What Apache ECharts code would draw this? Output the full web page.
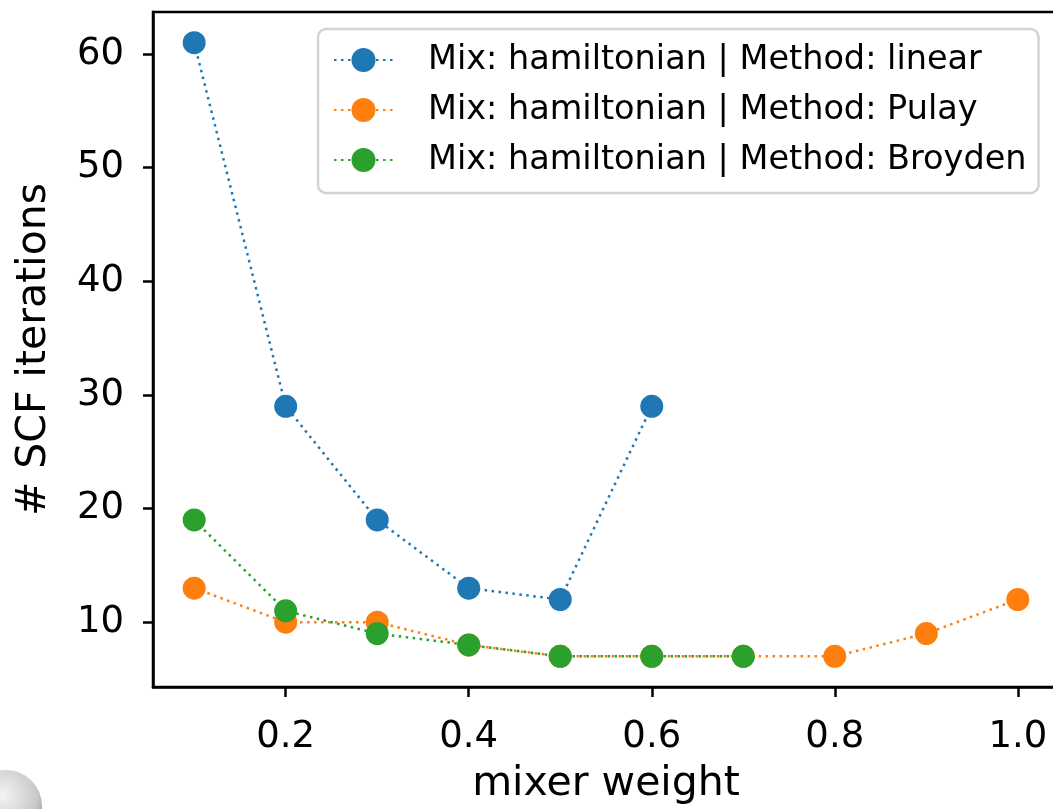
<!DOCTYPE html>
<html>
<head>
<meta charset="utf-8">
<script src="https://cdn.jsdelivr.net/npm/echarts@6/dist/echarts.min.js"></script>
<style>
html,body{margin:0;padding:0;background:#fff;}
#chart{width:1053px;height:809px;}
</style>
</head>
<body>
<div id="chart"></div>
<script>
const seriesNames = [
  'Mix: hamiltonian | Method: linear',
  'Mix: hamiltonian | Method: Pulay',
  'Mix: hamiltonian | Method: Broyden'
];
const linearX = [0.1, 0.2, 0.3, 0.4, 0.5, 0.6];
const linearY = [61, 29, 19, 13, 12, 29];
const pulayX = [0.1, 0.2, 0.3, 0.4, 0.5, 0.6, 0.7, 0.8, 0.9, 1.0];
const pulayY = [13, 10, 10, 8, 7, 7, 7, 7, 9, 12];
const broydenX = [0.1, 0.2, 0.3, 0.4, 0.5, 0.6, 0.7];
const broydenY = [19, 11, 9, 8, 7, 7, 7];
const xTicks = [0.2, 0.4, 0.6, 0.8, 1.0];
const yTicks = [10, 20, 30, 40, 50, 60];
const colors = ['#1f77b4', '#ff7f0e', '#2ca02c'];

const pairs = (xs, ys) => xs.map((x, i) => [x, ys[i]]);
const font = 'DejaVu Sans';

function mkSeries(name, data, color, z) {
  return {
    name: name,
    type: 'line',
    data: data,
    symbol: 'circle',
    symbolSize: 23,
    z: z,
    itemStyle: { color: color, borderWidth: 0 },
    lineStyle: { color: color, width: 2.5, type: [2.5, 4.5] },
    emphasis: { disabled: true },
    animation: false
  };
}

const chart = echarts.init(document.getElementById('chart'));
chart.setOption({
  animation: false,
  grid: {
    left: 153, top: 12, width: 906, height: 675,
    outerBoundsMode: 'none', containLabel: false,
    show: true, borderColor: '#000', borderWidth: 2.5, backgroundColor: 'transparent'
  },
  legend: {
    left: 318, top: 29,
    orient: 'vertical',
    padding: [14, 12, 16, 15],
    itemWidth: 59, itemHeight: 30, itemGap: 16,
    backgroundColor: '#fff',
    borderColor: '#d3d3d3', borderWidth: 2.5, borderRadius: 8,
    textStyle: { fontFamily: font, fontSize: 33.5, color: '#000', padding: [0, 0, 0, 30] },
    data: seriesNames
  },
  xAxis: {
    type: 'value',
    min: 0.055, max: 1.045,
    name: 'mixer weight',
    nameLocation: 'middle',
    nameGap: 77,
    nameTextStyle: { fontFamily: font, fontSize: 41, color: '#000' },
    axisLine: { show: true, lineStyle: { color: '#000', width: 2.5 } },
    axisTick: { show: true, length: 10, lineStyle: { color: '#000', width: 2.5 }, customValues: xTicks },
    axisLabel: { fontFamily: font, fontSize: 37, color: '#000', margin: 32, customValues: xTicks,
      formatter: v => Number(v).toFixed(1) },
    splitLine: { show: false }
  },
  yAxis: {
    type: 'value',
    min: 4.3, max: 63.7,
    name: '# SCF iterations',
    nameLocation: 'middle',
    nameGap: 98,
    nameTextStyle: { fontFamily: font, fontSize: 41, color: '#000' },
    axisLine: { show: true, lineStyle: { color: '#000', width: 2.5 } },
    axisTick: { show: true, length: 10, lineStyle: { color: '#000', width: 2.5 }, customValues: yTicks },
    axisLabel: { fontFamily: font, fontSize: 37, color: '#000', margin: 29, customValues: yTicks,
      formatter: v => String(Math.round(v)) },
    splitLine: { show: false }
  },
  graphic: [{
    type: 'circle', left: -30, top: 770, silent: true,
    shape: { r: 36 },
    style: {
      fill: new echarts.graphic.RadialGradient(0.45, 0.35, 0.7, [
        { offset: 0, color: '#f4f4f4' },
        { offset: 0.7, color: '#c8c8c8' },
        { offset: 1, color: '#8c8c8c' }
      ])
    }
  }],
  series: [
    mkSeries(seriesNames[0], pairs(linearX, linearY), colors[0], 2),
    mkSeries(seriesNames[1], pairs(pulayX, pulayY), colors[1], 3),
    mkSeries(seriesNames[2], pairs(broydenX, broydenY), colors[2], 4)
  ]
});
</script>
</body>
</html>
